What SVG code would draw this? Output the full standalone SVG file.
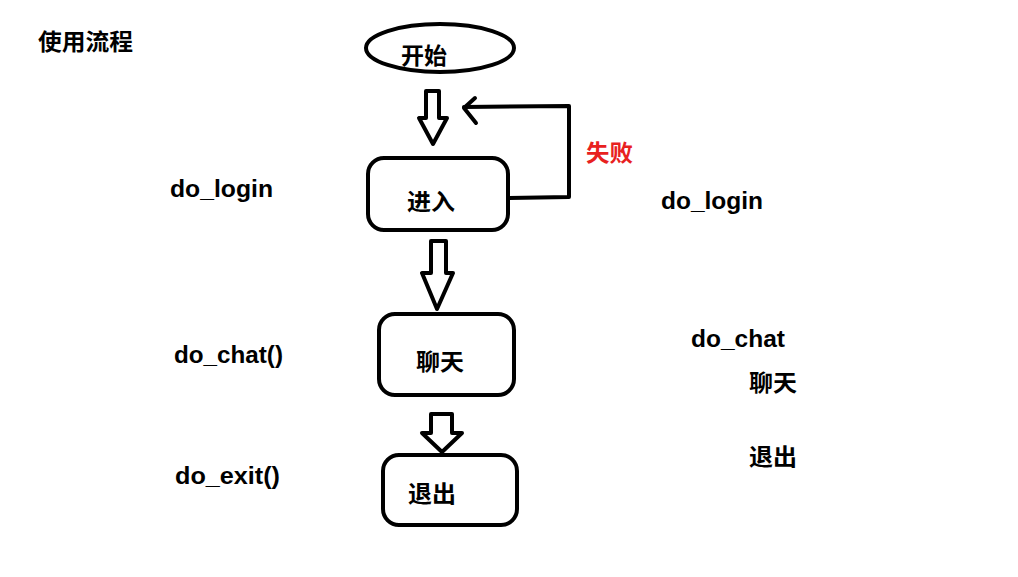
<svg xmlns="http://www.w3.org/2000/svg" width="1018" height="577" viewBox="0 0 1018 577">
<defs>
<style>
.shape{fill:#fff;stroke:#000;stroke-width:4;stroke-linejoin:round}
.conn{fill:none;stroke:#000;stroke-width:4;stroke-linejoin:round;stroke-linecap:round}
.cjk{font-family:"Noto Sans CJK SC","Noto Sans",sans-serif;font-weight:bold;font-size:23px;fill:#000}
.lat{font-family:"Liberation Sans","Noto Sans CJK SC",sans-serif;font-weight:bold;font-size:24px;fill:#000}
.red{fill:#e8211f}
</style>
</defs>
<rect width="1018" height="577" fill="#fff"/>
<text class="cjk" x="38" y="50" textLength="95" lengthAdjust="spacingAndGlyphs">使用流程</text>
<g id="start">
<ellipse class="shape" cx="440" cy="48" rx="74" ry="24"/>
<text class="cjk" x="401" y="64" textLength="46" lengthAdjust="spacingAndGlyphs">开始</text>
</g>
<g id="enter">
<rect class="shape" x="368" y="158" width="140" height="72" rx="16"/>
<text class="cjk" x="407" y="210" textLength="48" lengthAdjust="spacingAndGlyphs">进入</text>
</g>
<g id="chat">
<rect class="shape" x="379" y="314" width="135" height="81" rx="16"/>
<text class="cjk" x="416" y="370" textLength="48" lengthAdjust="spacingAndGlyphs">聊天</text>
</g>
<g id="exit">
<rect class="shape" x="383" y="455" width="134" height="70" rx="16"/>
<text class="cjk" x="408" y="502" textLength="48" lengthAdjust="spacingAndGlyphs">退出</text>
</g>
<g id="connectors">
<path class="conn" d="M426,91 L439,91 L439,118 L447,118 L433,144 L419,118 L426,118 Z"/>
<path class="conn" d="M431,241 L446,241 L446,273 L453,273 L437,309 L422,273 L431,273 Z"/>
<path class="conn" d="M431,414 L452,414 L452,433 L462,433 L442,452 L422,433 L431,433 Z"/>
<path class="conn" d="M509,198 L569,197 L569,106 L464,107"/>
<path class="conn" d="M475,98 L464,108 L476,123"/>
</g>
<text class="cjk red" x="586" y="161" textLength="47" lengthAdjust="spacingAndGlyphs">失败</text>
<text class="lat" x="170" y="197" textLength="103" lengthAdjust="spacingAndGlyphs">do_login</text>
<text class="lat" x="661" y="209" textLength="102" lengthAdjust="spacingAndGlyphs">do_login</text>
<text class="lat" x="174" y="363" textLength="109" lengthAdjust="spacingAndGlyphs">do_chat()</text>
<text class="lat" x="691" y="347" textLength="94" lengthAdjust="spacingAndGlyphs">do_chat</text>
<text class="lat" x="175" y="484" textLength="105" lengthAdjust="spacingAndGlyphs">do_exit()</text>
<text class="cjk" x="749" y="391" textLength="48" lengthAdjust="spacingAndGlyphs">聊天</text>
<text class="cjk" x="749" y="465" textLength="48" lengthAdjust="spacingAndGlyphs">退出</text>
</svg>
